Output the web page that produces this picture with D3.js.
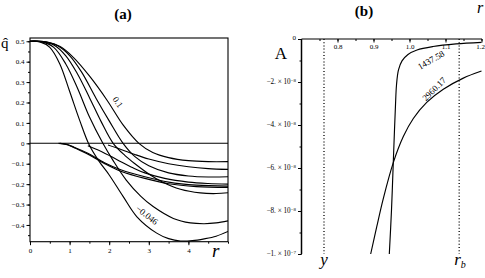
<!DOCTYPE html>
<html>
<head>
<meta charset="utf-8">
<script src="https://cdn.jsdelivr.net/npm/d3@7"></script>
<style>
  body { margin: 0; background: #fff; }
  svg { display: block; font-family: "Liberation Serif", "DejaVu Serif", serif; }
  svg text { font-family: "Liberation Serif", "DejaVu Serif", serif; fill: #000; }
</style>
</head>
<body>
<svg width="485" height="278"></svg>
<script>
let svg = d3.select('svg');

// ---- panel (a) data : q-hat vs r ----
let aCurveLabels = ['-0.046', '', '', '', '0.1', '', '', '', ''];
let aCurve1 = [[0,0.5],[0.25,0.497],[0.5,0.47],[0.75,0.39],[1.0,0.255],[1.25,0.115],[1.5,-0.01],[1.75,-0.09],[2.0,-0.155],[2.35,-0.26],[2.7,-0.36],[3.2,-0.44],[3.5,-0.467],[3.8,-0.479],[4.1,-0.477],[4.4,-0.468],[4.7,-0.455],[5.0,-0.432]];
let aCurve2 = [[0,0.5],[0.3,0.497],[0.6,0.47],[0.9,0.39],[1.2,0.27],[1.5,0.13],[1.84,0],[2.1,-0.085],[2.43,-0.18],[2.8,-0.26],[3.11,-0.31],[3.62,-0.368],[4.05,-0.39],[4.4,-0.394],[4.7,-0.39],[5.0,-0.38]];
let aCurve3 = [[0,0.5],[0.3,0.498],[0.6,0.482],[0.9,0.43],[1.2,0.34],[1.5,0.225],[1.8,0.105],[2.1,0],[2.4,-0.06],[2.65,-0.1],[3.0,-0.15],[3.33,-0.188],[3.8,-0.225],[4.3,-0.243],[4.7,-0.246],[5.0,-0.242]];
let aCurve4 = [[0,0.5],[0.35,0.498],[0.7,0.478],[1.0,0.43],[1.3,0.35],[1.67,0.22],[2.0,0.11],[2.35,0],[2.65,-0.065],[3.0,-0.11],[3.5,-0.145],[4.0,-0.16],[4.5,-0.165],[5.0,-0.164]];
let aCurve5 = [[0,0.5],[0.4,0.497],[0.75,0.475],[1.1,0.42],[1.5,0.33],[1.95,0.21],[2.35,0.09],[2.75,0],[3.1,-0.045],[3.5,-0.07],[4.0,-0.085],[4.5,-0.09],[5.0,-0.09]];
let aInner1 = [[0.72,0],[0.9,-0.004],[1.1,-0.018],[1.46,-0.049],[1.88,-0.095],[2.31,-0.131],[2.9,-0.164],[3.5,-0.19],[4.2,-0.205],[5.0,-0.21]];
let aInner2 = [[0.76,0],[0.95,-0.007],[1.15,-0.024],[1.5,-0.057],[1.9,-0.101],[2.31,-0.138],[2.9,-0.172],[3.5,-0.198],[4.2,-0.212],[5.0,-0.216]];
let aInner3 = [[1.46,-0.012],[1.8,-0.04],[2.2,-0.08],[2.6,-0.12],[2.9,-0.145],[3.4,-0.172],[4.0,-0.19],[4.5,-0.197],[5.0,-0.2]];
let aInner4 = [[1.97,-0.008],[2.3,-0.03],[2.65,-0.055],[3.0,-0.077],[3.5,-0.1],[4.0,-0.115],[4.5,-0.124],[5.0,-0.128]];
let aXTicks = [0, 1, 2, 3, 4];
let aXTickLabels = ['0', '1', '2', '3', '4'];
let aYTicks = [0.5, 0.4, 0.3, 0.2, 0.1, 0, -0.1, -0.2, -0.3, -0.4];
let aYTickLabels = ['0.5', '0.4', '0.3', '0.2', '0.1', '0', '\u22120.1', '\u22120.2', '\u22120.3', '\u22120.4'];

// ---- panel (b) data : A vs r ----
let bCurveLabels = ['1437.58', '2960.17'];
let bCurve1 = [[0.9439,-10.0e-8],[0.9500,-7.95e-8],[0.9550,-5.72e-8],[0.9583,-4.23e-8],[0.9611,-3.07e-8],[0.9639,-2.14e-8],[0.9694,-1.44e-8],[0.9792,-1.02e-8],[0.9958,-0.72e-8],[1.0208,-0.51e-8],[1.0653,-0.35e-8],[1.1292,-0.23e-8],[1.2,-0.16e-8]];
let bCurve2 = [[0.8922,-10.0e-8],[0.9089,-8.74e-8],[0.9272,-7.42e-8],[0.9550,-5.75e-8],[0.9828,-4.54e-8],[1.0106,-3.70e-8],[1.0478,-2.95e-8],[1.0939,-2.34e-8],[1.1494,-1.82e-8],[1.2,-1.49e-8]];
let bXTicks = [0.8, 0.9, 1.0, 1.1, 1.2];
let bXTickLabels = ['0.8', '0.9', '1.0', '1.1', '1.2'];
let bYTicks = [-2e-8, -4e-8, -6e-8, -8e-8];
let bYTickMant = ['\u22122.', '\u22124.', '\u22126.', '\u22128.'];
let bMarks = [0.7625, 1.138];   // y and r_b

// ================= panel (a) =================
let aX = d3.scaleLinear().domain([0, 5]).range([30, 228]);
let aY = d3.scaleLinear().domain([-0.482, 0.516]).range([241.7, 38]);

let ga = svg.append('g');
ga.append('clipPath').attr('id', 'clipA').append('rect')
    .attr('x', 30).attr('y', 38).attr('width', 198).attr('height', 203.7);

// left axis, minor + major ticks
ga.append('g').attr('transform', 'translate(30,0)')
    .call(d3.axisLeft(aY).tickValues(d3.range(-0.45, 0.51, 0.05)).tickSize(2).tickFormat(''))
    .call(g => g.select('.domain').remove());
ga.append('g').attr('transform', 'translate(30,0)')
    .call(d3.axisLeft(aY).tickValues(aYTicks).tickSize(3.5).tickPadding(2)
        .tickFormat((d, i) => aYTickLabels[i]))
    .call(g => g.select('.domain').remove())
    .call(g => g.selectAll('text').attr('font-size', 7));

// bottom axis
ga.append('g').attr('transform', 'translate(0,241.7)')
    .call(d3.axisBottom(aX).tickValues(d3.range(0, 5.01, 0.5)).tickSize(2).tickFormat(''))
    .call(g => g.select('.domain').remove());
ga.append('g').attr('transform', 'translate(0,241.7)')
    .call(d3.axisBottom(aX).tickValues(aXTicks).tickSize(3.5).tickPadding(2.5)
        .tickFormat((d, i) => aXTickLabels[i]))
    .call(g => g.select('.domain').remove())
    .call(g => g.selectAll('text').attr('font-size', 7));

// frame + zero line
ga.append('rect').attr('x', 30).attr('y', 38).attr('width', 198).attr('height', 203.7)
    .attr('fill', 'none').attr('stroke', '#000').attr('stroke-width', 1.1);
ga.append('line').attr('x1', aX(0)).attr('x2', aX(5)).attr('y1', aY(0)).attr('y2', aY(0))
    .attr('stroke', '#000').attr('stroke-width', 1.1);

let aLine = d3.line().x(d => aX(d[0])).y(d => aY(d[1])).curve(d3.curveCatmullRom.alpha(0.5));
let aAll = [aCurve1, aCurve2, aCurve3, aCurve4, aCurve5, aInner1, aInner2, aInner3, aInner4];
ga.append('g').attr('clip-path', 'url(#clipA)')
    .selectAll('.curveA')
    .data(aAll)
    .enter()
    .append('path')
    .attr('d', aLine)
    .attr('fill', 'none')
    .attr('stroke', '#000')
    .attr('stroke-width', 1.15);

// curve labels
ga.append('text').text(aCurveLabels[4])
    .attr('transform', 'translate(118,102) rotate(55)')
    .attr('text-anchor', 'middle').attr('dy', '0.35em').attr('font-size', 9);
ga.append('text').text(aCurveLabels[0].replace('-', '\u2212'))
    .attr('transform', 'translate(147,215) rotate(38)')
    .attr('text-anchor', 'middle').attr('dy', '0.35em').attr('font-size', 9);

// axis titles
ga.append('text').text('q\u0302').attr('x', 1).attr('y', 48).attr('font-size', 15);
ga.append('text').text('r').attr('x', 212).attr('y', 257)
    .attr('font-size', 19).attr('font-style', 'italic');
ga.append('text').text('(a)').attr('x', 123).attr('y', 19)
    .attr('text-anchor', 'middle').attr('font-size', 15).attr('font-weight', 'bold');

// ================= panel (b) =================
let bX = d3.scaleLinear().domain([0.7, 1.2]).range([301.5, 481.5]);
let bY = d3.scaleLinear().domain([-1e-7, 0]).range([254, 39]);

let gb = svg.append('g');

// y axis (left)
gb.append('g').attr('transform', 'translate(301.5,0)')
    .call(d3.axisLeft(bY).tickValues(d3.range(-10, 0.1, 1).map(v => v * 1e-8)).tickSize(2).tickFormat(''))
    .call(g => g.select('.domain').attr('stroke-width', 1.5).attr('d', 'M0,39V254'));
gb.append('g').attr('transform', 'translate(301.5,0)')
    .call(d3.axisLeft(bY).tickValues([0, -1e-7].concat(bYTicks)).tickSize(3.5).tickFormat(''))
    .call(g => g.select('.domain').remove());

// y tick labels
bYTicks.forEach(function(v, i) {
    let t = gb.append('text').attr('x', 296).attr('y', bY(v)).attr('dy', '0.32em')
        .attr('text-anchor', 'end').attr('font-size', 7.2);
    t.append('tspan').text(bYTickMant[i] + ' \u00d7 10');
    t.append('tspan').text('\u22128').attr('font-size', 5).attr('dy', '-0.5em');
});
let tb = gb.append('text').attr('x', 296).attr('y', bY(-1e-7)).attr('dy', '0.32em')
    .attr('text-anchor', 'end').attr('font-size', 7.2);
tb.append('tspan').text('\u22121. \u00d7 10');
tb.append('tspan').text('\u22127').attr('font-size', 5).attr('dy', '-0.5em');
gb.append('text').text('0').attr('x', 296).attr('y', bY(0)).attr('dy', '0.1em')
    .attr('text-anchor', 'end').attr('font-size', 7);

// x axis along the top (A = 0)
gb.append('g').attr('transform', 'translate(0,39)')
    .call(d3.axisBottom(bX).tickValues(d3.range(0.75, 1.201, 0.05)).tickSize(2).tickFormat(''))
    .call(g => g.select('.domain').remove());
gb.append('g').attr('transform', 'translate(0,39)')
    .call(d3.axisBottom(bX).tickValues(bXTicks).tickSize(3.5).tickPadding(1.5)
        .tickFormat((d, i) => bXTickLabels[i]))
    .call(g => g.select('.domain').attr('d', 'M301.5,0H482').attr('stroke-width', 1.2))
    .call(g => g.selectAll('text').attr('font-size', 7))
    .call(g => g.selectAll('.tick:last-of-type text').attr('text-anchor', 'end').attr('dx', '3'));

// dotted marker lines
gb.selectAll('.mark')
    .data(bMarks)
    .enter()
    .append('line')
    .attr('x1', d => bX(d)).attr('x2', d => bX(d))
    .attr('y1', bY(0)).attr('y2', bY(-1e-7))
    .attr('stroke', '#000').attr('stroke-width', 1.3)
    .attr('stroke-dasharray', '1,2.2');

let bLine = d3.line().x(d => bX(d[0])).y(d => bY(d[1])).curve(d3.curveCatmullRom.alpha(0.5));
gb.selectAll('.curveB')
    .data([bCurve1, bCurve2])
    .enter()
    .append('path')
    .attr('d', bLine)
    .attr('fill', 'none')
    .attr('stroke', '#000')
    .attr('stroke-width', 1.15);

gb.append('text').text(bCurveLabels[0])
    .attr('transform', 'translate(431,60) rotate(-30)')
    .attr('text-anchor', 'middle').attr('dy', '0.35em').attr('font-size', 9);
gb.append('text').text(bCurveLabels[1])
    .attr('transform', 'translate(434,89) rotate(-45)')
    .attr('text-anchor', 'middle').attr('dy', '0.35em').attr('font-size', 9);

// titles
gb.append('text').text('A').attr('x', 281).attr('y', 59)
    .attr('text-anchor', 'middle').attr('font-size', 17);
gb.append('text').text('r').attr('x', 477).attr('y', 13)
    .attr('font-size', 16).attr('font-style', 'italic');
gb.append('text').text('y').attr('x', bX(bMarks[0])).attr('y', 265)
    .attr('text-anchor', 'middle').attr('font-size', 17).attr('font-style', 'italic');
let rb = gb.append('text').attr('x', bX(bMarks[1]) - 5).attr('y', 265).attr('font-size', 17).attr('font-style', 'italic');
rb.append('tspan').text('r');
rb.append('tspan').text('b').attr('font-size', 10).attr('dy', '0.3em');
gb.append('text').text('(b)').attr('x', 364).attr('y', 16)
    .attr('text-anchor', 'middle').attr('font-size', 15).attr('font-weight', 'bold');
</script>
</body>
</html>
